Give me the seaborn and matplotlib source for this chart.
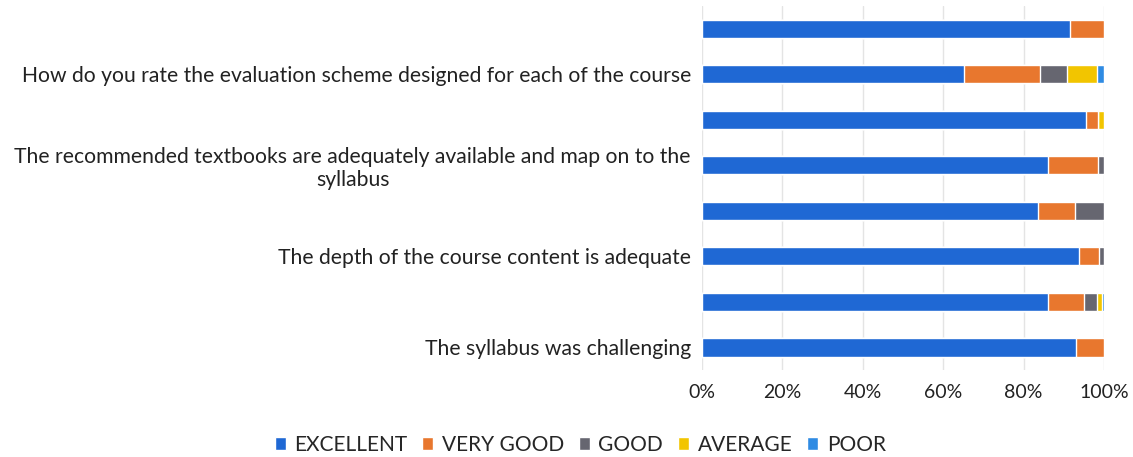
import numpy as np
import pandas as pd
import seaborn as sns
import matplotlib.pyplot as plt

sns.set_theme(style='white')
plt.rcParams['font.family'] = ['Lato', 'DejaVu Sans']

questions = ['Q1', 'Q2', 'Q3', 'Q4', 'Q5', 'Q6', 'Q7', 'Q8']
tick_labels = ['',
               'How do you rate the evaluation scheme designed for each of the course',
               '',
               'The recommended textbooks are adequately available and map on to the\nsyllabus',
               '',
               'The depth of the course content is adequate',
               '',
               'The syllabus was challenging']
series = ['EXCELLENT', 'VERY GOOD', 'GOOD', 'AVERAGE', 'POOR']
excellent = [91.5, 65.2, 95.5, 86.1, 83.6, 93.8, 86.1, 93.0]
very_good = [8.5, 18.9, 3.0, 12.4, 9.2, 5.0, 8.9, 7.0]
good = [0.0, 6.7, 0.0, 1.5, 7.2, 1.2, 3.3, 0.0]
average = [0.0, 7.5, 1.5, 0.0, 0.0, 0.0, 1.2, 0.0]
poor = [0.0, 1.7, 0.0, 0.0, 0.0, 0.0, 0.5, 0.0]
colors = ['#1F68D4', '#E8772E', '#666670', '#F2C500', '#2F8BE3']

df = pd.DataFrame({'question': questions, 'EXCELLENT': excellent, 'VERY GOOD': very_good,
                   'GOOD': good, 'AVERAGE': average, 'POOR': poor})
cum = df[series].cumsum(axis=1)

fig, ax = plt.subplots(figsize=(11.33, 4.57), dpi=100)
fig.subplots_adjust(left=0.6196, right=0.9744, top=0.987, bottom=0.19)

# draw from the full stack down so each shorter bar sits on top
for name, c in reversed(list(zip(series, colors))):
    sns.barplot(x=cum[name], y=df['question'], color=c, orient='h', width=0.4,
                label=name, ax=ax, saturation=1)

ax.set_xlim(0, 100)
ax.set_xticks(np.arange(0, 101, 20))
ax.set_xticklabels([f'{v}%' for v in range(0, 101, 20)], fontsize=14, color='#222222')
ax.set_yticks(range(len(questions)))
ax.set_yticklabels(tick_labels, fontsize=15.2, color='#222222', multialignment='center')
ax.set_xlabel('')
ax.set_ylabel('')
ax.xaxis.grid(True, color='#E4E4E4', linewidth=1)
ax.set_axisbelow(True)
ax.tick_params(axis='y', length=0, pad=8)
ax.tick_params(axis='x', length=0, pad=10)
for s in ax.spines.values():
    s.set_visible(False)

h, l = ax.get_legend_handles_labels()
ax.legend(h[::-1], l[::-1], loc='center', bbox_to_anchor=(0.512, 0.026),
          bbox_transform=fig.transFigure, ncol=5, frameon=False, fontsize=15,
          handlelength=0.55, handleheight=0.55, handletextpad=0.4, columnspacing=0.7)

plt.savefig('out.png', dpi=100)
